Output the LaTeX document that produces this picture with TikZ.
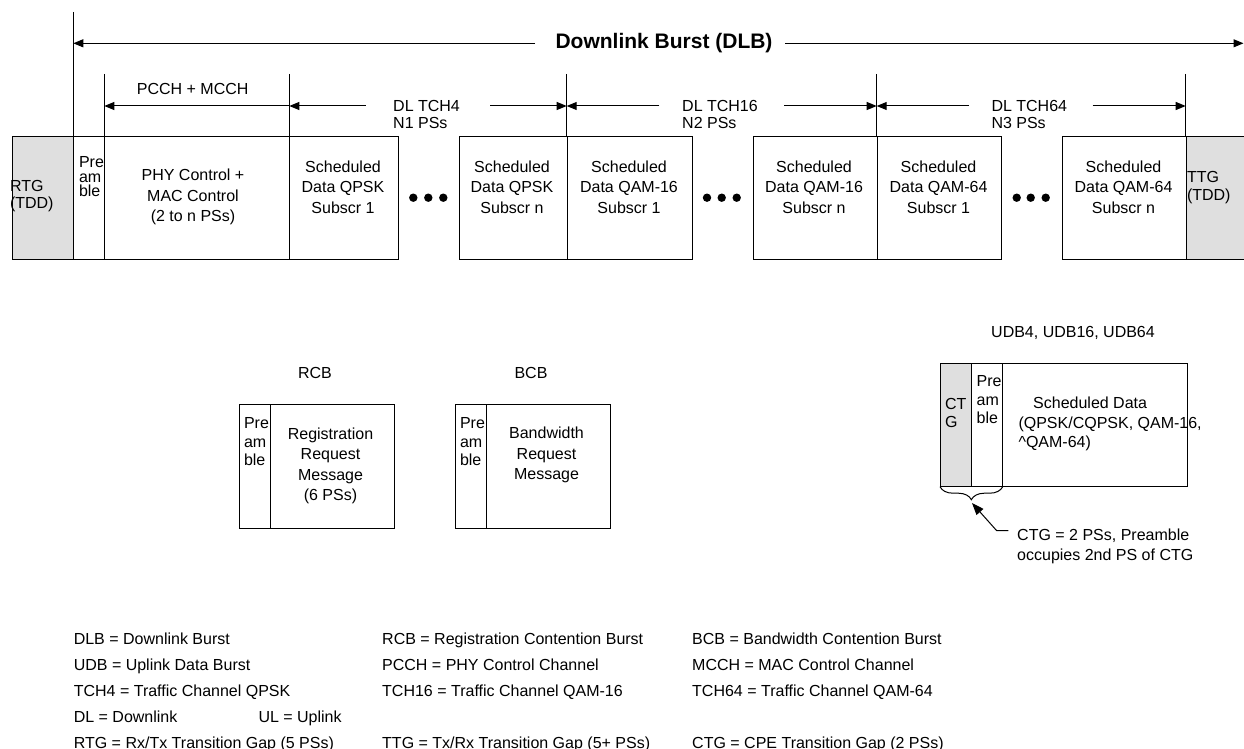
\documentclass[tikz,border=0pt]{standalone}
\usepackage{fontspec}
\setmainfont{Liberation Sans}
\usetikzlibrary{arrows.meta,decorations.pathreplacing}
\begin{document}
\begin{tikzpicture}[x=1pt,y=-1pt,line width=1pt,
  cell/.style={draw,line width=1pt,inner sep=0,anchor=north west,minimum height=123pt},
  gap/.style={cell,fill=gray!25},
  t/.style={inner sep=0,font=\fontsize{16}{20.5}\selectfont,align=center},
  tl/.style={inner sep=0,font=\fontsize{16}{17.5}\selectfont,align=left,anchor=west},
  pr/.style={inner sep=0,font=\fontsize{16}{14.5}\selectfont,align=left,anchor=west},
  prb/.style={inner sep=0,font=\fontsize{16}{18.2}\selectfont,align=left,anchor=west},
  lbl/.style={inner sep=0,font=\fontsize{16}{18}\selectfont,anchor=base},
  leg/.style={inner sep=0,font=\fontsize{16}{18}\selectfont,anchor=base west},
  arr/.style={-{Triangle[length=10pt,width=8pt]}},
  dot/.style={circle,fill,inner sep=0,minimum size=8.4pt}]
\useasboundingbox (0,0) rectangle (1244,749);

% ---- main downlink burst cells
\node[gap,minimum width=61.6pt] (rtg) at (11.7,136) {};
\node[cell,minimum width=31pt] (pre) at (73.3,136) {};
\node[cell,minimum width=185pt] (phy) at (104.3,136) {};
\node[cell,minimum width=108.4pt] (q1) at (289.3,136) {};
\node[cell,minimum width=107.4pt] (qn) at (459.3,136) {};
\node[cell,minimum width=125.3pt] (ma) at (566.7,136) {};
\node[cell,minimum width=123.4pt] (mn) at (753.3,136) {};
\node[cell,minimum width=124.3pt] (sa) at (876.7,136) {};
\node[cell,minimum width=124pt] (sn) at (1061.7,136) {};
\node[gap,minimum width=70pt] (ttg) at (1185.7,136) {};

% texts in cells
\node[tl,font=\fontsize{16}{17}\selectfont] (rtgt) at (9.5,196.5) {RTG\\(TDD)};
\node[pr] (pret) at (78.5,177) {Pre\\am\\ble};
\node[t] (phyt) at (193,197) {PHY Control +\\MAC Control\\(2 to n PSs)};
\node[t] (q1t) at (343,187) {Scheduled\\Data QPSK\\Subscr 1};
\node[t] (qnt) at (512,187) {Scheduled\\Data QPSK\\Subscr n};
\node[t] (mat) at (629,187) {Scheduled\\Data QAM-16\\Subscr 1};
\node[t] (mnt) at (814,187) {Scheduled\\Data QAM-16\\Subscr n};
\node[t] (sat) at (938.5,187) {Scheduled\\Data QAM-64\\Subscr 1};
\node[t] (snt) at (1123.5,187) {Scheduled\\Data QAM-64\\Subscr n};
\node[tl,font=\fontsize{16}{18.5}\selectfont] (ttgt) at (1186.5,187.5) {TTG\\(TDD)};

% ellipsis dots
\foreach \x/\n in {413.3/a1,428.3/a2,443.3/a3,707/b1,721.7/b2,736.7/b3,1016.7/c1,1030.7/c2,1045.7/c3}
  \node[dot] (d\n) at (\x,197.7) {};

% ---- vertical reference lines
\coordinate (v0t) at (73.3,12);
\coordinate (v1t) at (104.3,74);
\coordinate (v2t) at (289.3,74);
\coordinate (v3t) at (566.7,74);
\coordinate (v4t) at (876.7,74);
\coordinate (v5t) at (1185.7,74);
\draw (v0t) -- (pre.north west);
\draw (v1t) -- (phy.north west);
\draw (v2t) -- (q1.north west);
\draw (v3t) -- (ma.north west);
\draw (v4t) -- (sa.north west);
\draw (v5t) -- (ttg.north west);

% ---- Downlink burst arrow
\node[inner sep=0,font=\fontsize{21}{24}\selectfont\bfseries] (dlb) at (664,43.3) {Downlink Burst (DLB)};
\coordinate (dlbL) at (73.3,43.3);
\coordinate (dlbR) at (1243.5,43.3);
\coordinate (dlbA) at (535,43.3);
\coordinate (dlbB) at (785,43.3);
\draw[arr] (dlbA) -- (dlbL);
\draw[arr] (dlbB) -- (dlbR);

% ---- PCCH + MCCH
\coordinate (pcL) at (104.3,106);
\coordinate (pcR) at (289.3,106);
\draw[arr,{Triangle[length=10pt,width=8pt]}-] (pcL) -- (pcR);
\node[lbl] (pcct) at (192.7,95) {PCCH + MCCH};

% ---- DL TCH4
\coordinate (t4L) at (289.3,106);
\coordinate (t4a) at (365.7,106);
\coordinate (t4b) at (490,106);
\coordinate (t4R) at (566.7,106);
\draw[arr] (t4a) -- (t4L);
\draw[arr] (t4b) -- (t4R);
\node[tl] (t4t) at (392.7,114.3) {DL TCH4\\N1 PSs};

% ---- DL TCH16
\coordinate (t16L) at (566.7,106);
\coordinate (t16a) at (659.3,106);
\coordinate (t16b) at (784,106);
\coordinate (t16R) at (876.7,106);
\draw[arr] (t16a) -- (t16L);
\draw[arr] (t16b) -- (t16R);
\node[tl] (t16t) at (681.7,114.3) {DL TCH16\\N2 PSs};

% ---- DL TCH64
\coordinate (t64L) at (876.7,106);
\coordinate (t64a) at (969,106);
\coordinate (t64b) at (1092.7,106);
\coordinate (t64R) at (1185.7,106);
\draw[arr] (t64a) -- (t64L);
\draw[arr] (t64b) -- (t64R);
\node[tl] (t64t) at (991,114.3) {DL TCH64\\N3 PSs};

% ---- RCB
\node[lbl] (rcbl) at (315,378) {RCB};
\node[cell,minimum width=31pt,minimum height=124pt] (rpre) at (239,404.3) {};
\node[cell,minimum width=124.3pt,minimum height=124pt] (rmsg) at (270,404.3) {};
\node[prb] (rpret) at (243.5,441.7) {Pre\\am\\ble};
\node[t] (rmsgt) at (330.5,465.8) {Registration\\Request\\Message\\(6 PSs)};

% ---- BCB
\node[lbl] (bcbl) at (531,378) {BCB};
\node[cell,minimum width=31pt,minimum height=124pt] (bpre) at (455,404.3) {};
\node[cell,minimum width=124pt,minimum height=124pt] (bmsg) at (486,404.3) {};
\node[prb] (bpret) at (459.5,441.7) {Pre\\am\\ble};
\node[t] (bmsgt) at (546.5,455) {Bandwidth\\Request\\Message};

% ---- UDB
\node[lbl] (udbl) at (1073,337.4) {UDB4, UDB16, UDB64};
\node[gap,minimum width=30.7pt] (ctg) at (940,362.7) {};
\node[cell,minimum width=31pt] (upre) at (970.7,362.7) {};
\node[cell,minimum width=185.6pt] (udat) at (1001.7,362.7) {};
\node[tl,font=\fontsize{16}{17.7}\selectfont] (ctgt) at (944.5,412.8) {CT\\G};
\node[prb] (upret) at (976.2,399.7) {Pre\\am\\ble};
\node[tl,font=\fontsize{16}{19.7}\selectfont] (udatt) at (1018,424) {\hspace*{14.7pt}Scheduled Data\\(QPSK/CQPSK, QAM-16,\\\textasciicircum QAM-64)};

\draw[decorate,decoration={brace,amplitude=13pt,mirror}] (ctg.south west) -- (upre.south east);
\coordinate (brtip) at (972,503);
\coordinate (cbend) at (996.7,530.7);
\node[tl,font=\fontsize{16}{20}\selectfont] (cnote) at (1016.7,546.7) {CTG = 2 PSs, Preamble\\occupies 2nd PS of CTG};
\coordinate (cstart) at (1008.3,530.7);
\draw[-{Triangle[length=12pt,width=9pt]}] (cstart) -- (cbend) -- (brtip);

% ---- legend
\node[leg] (l11) at (73.3,644) {DLB = Downlink Burst};
\node[leg] (l21) at (73.3,670.7) {UDB = Uplink Data Burst};
\node[leg] (l31) at (73.3,696.4) {TCH4 = Traffic Channel QPSK};
\node[leg] (l41) at (73.3,722.4) {DL = Downlink};
\node[leg] (l42) at (258,722.4) {UL = Uplink};
\node[leg] (l51) at (73.3,748) {RTG = Rx/Tx Transition Gap (5 PSs)};
\node[leg] (l12) at (381.7,644) {RCB = Registration Contention Burst};
\node[leg] (l22) at (381.7,670.7) {PCCH = PHY Control Channel};
\node[leg] (l32) at (381.7,696.4) {TCH16 = Traffic Channel QAM-16};
\node[leg] (l52) at (381.7,748) {TTG = Tx/Rx Transition Gap (5+ PSs)};
\node[leg] (l13) at (691.7,644) {BCB = Bandwidth Contention Burst};
\node[leg] (l23) at (691.7,670.7) {MCCH = MAC Control Channel};
\node[leg] (l33) at (691.7,696.4) {TCH64 = Traffic Channel QAM-64};
\node[leg] (l53) at (691.7,748) {CTG = CPE Transition Gap (2 PSs)};
\end{tikzpicture}
\end{document}
